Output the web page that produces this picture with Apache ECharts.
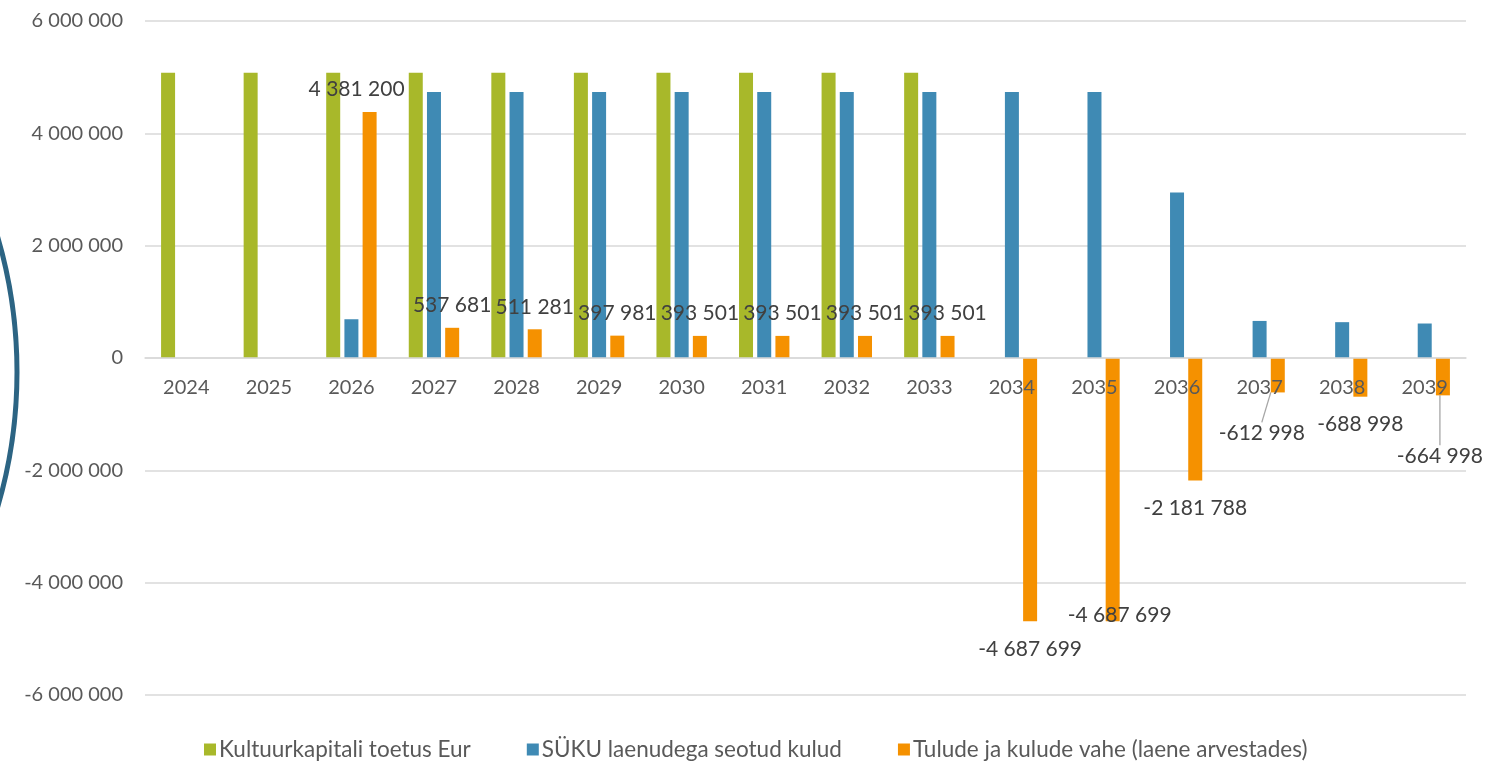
<!DOCTYPE html>
<html>
<head>
<meta charset="utf-8">
<script src="https://cdn.jsdelivr.net/npm/echarts@6/dist/echarts.min.js"></script>
<style>
html,body{margin:0;padding:0;background:#fff;}
#chart{width:1486px;height:761px;}
</style>
</head>
<body>
<div id="chart"></div>
<script>
var years = ['2024','2025','2026','2027','2028','2029','2030','2031','2032','2033','2034','2035','2036','2037','2038','2039'];
var kultuurkapital = [5078000,5078000,5078000,5078000,5078000,5078000,5078000,5078000,5078000,5078000,null,null,null,null,null,null];
var sukuKulud = [null,null,690000,4737000,4737000,4737000,4737000,4737000,4737000,4737000,4737000,4737000,2945000,660000,638000,614000];
var vahe = [null,null,4381200,537681,511281,397981,393501,393501,393501,393501,-4687699,-4687699,-2181788,-612998,-688998,-664998];
var seriesNames = ['Kultuurkapitali toetus Eur','SÜKU laenudega seotud kulud','Tulude ja kulude vahe (laene arvestades)'];
var yTicks = {min:-6000000, max:6000000, interval:2000000};

// label nudges (styling only)
var labelShift = {2:[-13,0],11:[7,-34],13:[-16,13],15:[-3,33]};
var guideLines = {13:true,15:true};

var FONT = 'Lato';
function fmt(v){
  var s = String(Math.abs(v)).replace(/\B(?=(\d{3})+(?!\d))/g,' ');
  return (v<0?'-':'') + s;
}

var GRID = {left:145, right:20, top:21, bottom:66};
var plotH = 761 - GRID.top - GRID.bottom;
var zeroOffset = -plotH * (0 - yTicks.min) / (yTicks.max - yTicks.min);

var chart = echarts.init(document.getElementById('chart'), null, {renderer:'canvas'});

var vaheData = vahe.map(function(v,i){
  if(v===null) return null;
  return {
    value:v,
    label:{position: v>=0 ? 'top':'bottom', distance: v>=0 ? 12 : 17},
    labelLine:{show: !!guideLines[i], lineStyle:{color:'#A6A6A6', width:1.3}}
  };
});

var option = {
  animation:false,
  backgroundColor:'#ffffff',
  textStyle:{fontFamily:FONT},
  grid:GRID,
  legend:{
    top:733, left:199,
    itemWidth:12, itemHeight:12, itemGap:56,
    icon:'rect',
    textStyle:{color:'#595959', fontSize:22.5, fontFamily:FONT, padding:[0,0,0,-2]},
    data:seriesNames
  },
  xAxis:{
    type:'category', data:years, position:'bottom', offset:zeroOffset,
    axisLine:{show:true, onZero:false, lineStyle:{color:'#D9D9D9', width:1.5}},
    axisTick:{show:false},
    axisLabel:{color:'#595959', fontSize:20, margin:20, fontFamily:FONT},
    z:10
  },
  yAxis:{
    type:'value', min:yTicks.min, max:yTicks.max, interval:yTicks.interval,
    axisLine:{show:false}, axisTick:{show:false},
    splitLine:{lineStyle:{color:'#D9D9D9', width:1.5}},
    axisLabel:{color:'#595959', fontSize:20, margin:22, fontFamily:FONT, formatter:function(v){return fmt(v);}}
  },
  graphic:[{
    type:'circle', shape:{cx:-463, cy:372, r:480},
    style:{fill:null, stroke:'#2C6483', lineWidth:5}, silent:true, z:0
  }],
  series:[
    {name:seriesNames[0], type:'bar', data:kultuurkapital, barWidth:14, barGap:'30%',
     itemStyle:{color:'#A8B82A'}},
    {name:seriesNames[1], type:'bar', data:sukuKulud, barWidth:14, barGap:'30%',
     itemStyle:{color:'#3F8AB4'}},
    {name:seriesNames[2], type:'bar', data:vaheData, barWidth:14, barGap:'30%',
     itemStyle:{color:'#F59100'},
     label:{show:true, color:'#404040', fontSize:21, fontFamily:FONT,
            formatter:function(p){return fmt(p.value);}},
     labelLine:{show:false},
     labelLayout:function(p){
       var s = labelShift[p.dataIndex];
       if(!s) return {};
       return {dx:s[0], dy:s[1]};
     },
     z:3}
  ]
};
chart.setOption(option);
</script>
</body>
</html>
